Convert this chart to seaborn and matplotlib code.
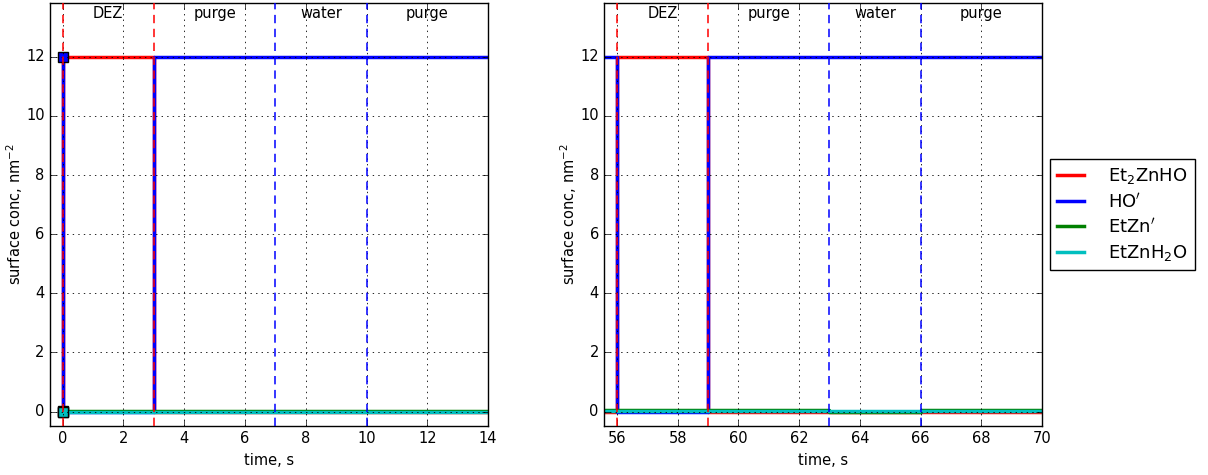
import matplotlib
matplotlib.use("Agg")
import matplotlib.pyplot as plt
import seaborn as sns

plt.style.use("classic")
plt.rcParams["mathtext.fontset"] = "dejavusans"
plt.rcParams["font.family"] = ["DejaVu Sans"]

# surface species, first cycle (0-14 s)
t1_red = [0, 0, 3, 3, 14]
et2znho_1 = [0, 12, 12, 0, 0]
t1_blue = [0, 0, 3, 3, 14]
ho_1 = [12, 0, 0, 12, 12]
t1_green = [0, 14]
etzn_1 = [0.03, 0.03]
t1_cyan = [0, 14]
etznh2o_1 = [0, 0]

# last cycle (56-70 s)
t2_red = [55.6, 56, 56, 59, 59, 70]
et2znho_2 = [0, 0, 12, 12, 0, 0]
t2_blue = [55.6, 56, 56, 59, 59, 70]
ho_2 = [12, 12, 0, 0, 12, 12]
t2_green = [55.6, 63, 63, 66, 66, 70]
etzn_2 = [0.06, 0.06, -0.02, -0.02, 0.06, 0.06]
t2_cyan = [55.6, 70]
etznh2o_2 = [0.02, 0.02]

# pulse boundaries and names
pulse_edges_1 = [0, 3, 7, 10]
pulse_edges_2 = [56, 59, 63, 66]
pulse_colors = ["r", "r", "b", "b"]
pulse_names = ["DEZ", "purge", "water", "purge"]
name_x_1 = [1.5, 5.0, 8.5, 12.0]
name_x_2 = [57.5, 61.0, 64.5, 68.0]

labels = ["Et$_2$ZnHO", "HO$'$", "EtZn$'$", "EtZnH$_2$O"]
colors = ["r", "b", "g", "c"]

fs = 10.5

fig = plt.figure(figsize=(12.08, 4.75), dpi=100, facecolor="white")
ax1 = fig.add_axes([0.0416, 0.1035, 0.3624, 0.8903])
ax2 = fig.add_axes([0.5003, 0.1035, 0.3624, 0.8903])


def draw(ax, series, edges, name_x, xlim, xticks, markers=False):
    for (t, v), c, lab in zip(series, colors, labels):
        kw = dict(marker="s", markevery=[0], markersize=7,
                  markeredgecolor="k", markeredgewidth=1) if markers else {}
        sns.lineplot(x=t, y=v, ax=ax, color=c, lw=2.5, estimator=None,
                     sort=False, label=lab, legend=False, **kw)
    for x, c in zip(edges, pulse_colors):
        ax.axvline(x, color=c, ls=(0, (6, 4)), lw=1.1, zorder=5)
    for x, n in zip(name_x, pulse_names):
        ax.text(x, 13.47, n, ha="center", va="center", fontsize=fs)
    ax.set_xlim(*xlim)
    ax.set_ylim(-0.48, 13.82)
    ax.set_xticks(xticks)
    ax.set_yticks(range(0, 13, 2))
    ax.tick_params(labelsize=fs)
    ax.grid(True, color="k", ls=":", lw=0.6)
    ax.set_xlabel("time, s", fontsize=fs)
    ax.set_ylabel("surface conc, nm$^{-2}$", fontsize=fs)
    ax.yaxis.set_label_coords(-0.058, 0.5)


draw(ax1, [(t1_red, et2znho_1), (t1_blue, ho_1), (t1_green, etzn_1), (t1_cyan, etznh2o_1)],
     pulse_edges_1, name_x_1, (-0.41, 14), range(0, 15, 2), markers=True)
draw(ax2, [(t2_red, et2znho_2), (t2_blue, ho_2), (t2_green, etzn_2), (t2_cyan, etznh2o_2)],
     pulse_edges_2, name_x_2, (55.59, 70), range(56, 71, 2))

handles, labs = ax2.get_legend_handles_labels()
ax2.legend(handles[:4], labs[:4], loc="center left", bbox_to_anchor=(1.018, 0.5),
           borderaxespad=0, fontsize=13, handlelength=1.5, handletextpad=1.3,
           labelspacing=0.35, numpoints=1)

fig.savefig("out.png", dpi=100, facecolor="white")
